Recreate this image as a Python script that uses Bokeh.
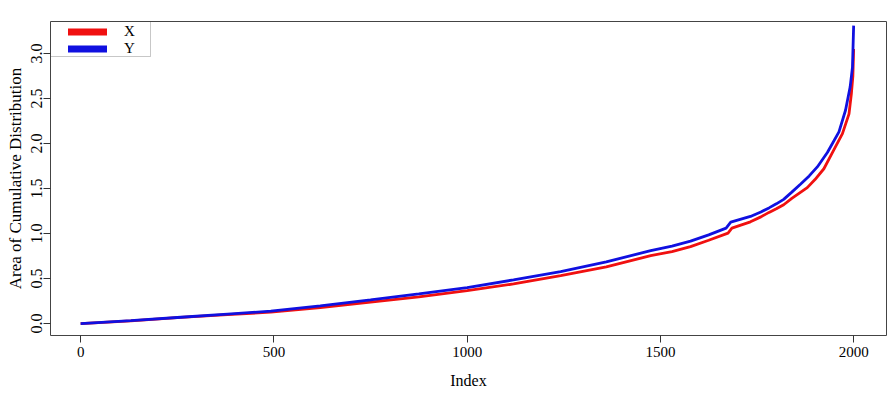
from bokeh.plotting import figure
from bokeh.models import (Range1d, Legend, LegendItem, BoxAnnotation,
                          FixedTicker, PrintfTickFormatter)
from bokeh.embed import file_html
from bokeh.resources import INLINE

NAN = float("nan")

# Series X (red)
idx_x = [0, 130, 259, 380, 492, 620, 750, 875, 1000, 1120, 1242, 1360, 1475,
         1530, 1578, 1625, 1675, 1685, 1733, 1760, 1781, 1800, 1819, 1840,
         1880, 1900, 1923, 1945, 1971, 1988, 1994, 1998, 2000]
val_x = [0.0, 0.03, 0.068, 0.10, 0.126, 0.178, 0.237, 0.295, 0.365, 0.44,
         0.533, 0.63, 0.755, 0.80, 0.855, 0.925, 1.005, 1.06, 1.13, 1.185,
         1.235, 1.275, 1.32, 1.39, 1.51, 1.60, 1.72, 1.90, 2.11, 2.33, 2.55,
         2.75, 3.05]

# Series Y (blue)
idx_y = [0, 130, 259, 380, 492, 620, 750, 875, 1000, 1120, 1242, 1360, 1475,
         1530, 1578, 1625, 1670, 1682, 1733, 1760, 1781, 1800, 1819, 1840,
         1863, 1885, 1906, 1932, 1962, 1979, 1991, 1997, 2000]
val_y = [0.0, 0.032, 0.07, 0.105, 0.137, 0.195, 0.263, 0.33, 0.40, 0.485,
         0.578, 0.685, 0.81, 0.86, 0.915, 0.985, 1.06, 1.126, 1.19, 1.24,
         1.285, 1.33, 1.38, 1.46, 1.55, 1.64, 1.74, 1.90, 2.13, 2.37, 2.63,
         2.85, 3.31]

x_ticks = [0, 500, 1000, 1500, 2000]
y_ticks = [0.0, 0.5, 1.0, 1.5, 2.0, 2.5, 3.0]
legend_labels = ["X", "Y"]
x_label = "Index"
y_label = "Area of Cumulative Distribution"

FONT = "Liberation Serif"
RED = "#f01010"
BLUE = "#1010e0"

p = figure(width=895, height=402, output_backend="svg", toolbar_location=None,
           x_range=Range1d(-78, 2085), y_range=Range1d(-0.133, 3.356),
           min_border_left=50, min_border_right=9, min_border_top=21,
           min_border_bottom=67)
p.grid.visible = False
p.outline_line_color = "#444444"
p.outline_line_width = 1
p.background_fill_color = "white"
p.border_fill_color = "white"

p.line(idx_x, val_x, color=RED, line_width=2.8)
p.line(idx_y, val_y, color=BLUE, line_width=2.8)

# legend-only renderers (thick round lines), nothing drawn in the plot
lx = p.line([NAN, NAN], [NAN, NAN], color=RED, line_width=7, line_cap="round")
ly = p.line([NAN, NAN], [NAN, NAN], color=BLUE, line_width=7, line_cap="round")


def one_item_legend(label, rend, vy):
    return Legend(items=[LegendItem(label=label, renderers=[rend])],
                  location=(18, vy), padding=0, margin=0, spacing=0,
                  glyph_width=39, glyph_height=11, label_height=11,
                  label_standoff=17, border_line_alpha=0,
                  background_fill_alpha=0, label_text_font=FONT,
                  label_text_font_size="15px", label_text_color="black")


p.add_layout(one_item_legend(legend_labels[0], lx, 295))
p.add_layout(one_item_legend(legend_labels[1], ly, 278))

box = BoxAnnotation(left=0, right=100, top=314, bottom=279,
                    left_units="screen", right_units="screen",
                    top_units="screen", bottom_units="screen",
                    fill_alpha=0, line_color="#444444", line_width=1)
p.add_layout(box)

for ax in (p.xaxis[0], p.yaxis[0]):
    ax.axis_line_color = None
    ax.major_tick_out = 7
    ax.major_tick_in = 0
    ax.major_tick_line_color = "#333333"
    ax.minor_tick_line_color = None
    ax.major_label_text_font = FONT
    ax.major_label_text_color = "black"
    ax.axis_label_text_font = FONT
    ax.axis_label_text_font_style = "normal"
    ax.axis_label_text_color = "black"

p.xaxis.ticker = FixedTicker(ticks=x_ticks)
p.xaxis.major_label_text_font_size = "15px"
p.xaxis.major_label_standoff = 4
p.xaxis.axis_label = x_label
p.xaxis.axis_label_text_font_size = "16px"
p.xaxis.axis_label_standoff = 12

p.yaxis.ticker = FixedTicker(ticks=y_ticks)
p.yaxis.formatter = PrintfTickFormatter(format="%.1f")
p.yaxis.major_label_orientation = "vertical"
p.yaxis.major_label_text_font_size = "16px"
p.yaxis.major_label_standoff = 1
p.yaxis.axis_label = y_label
p.yaxis.axis_label_text_font_size = "17px"
p.yaxis.axis_label_standoff = 4

open("out.html", "w").write(file_html(p, INLINE))
